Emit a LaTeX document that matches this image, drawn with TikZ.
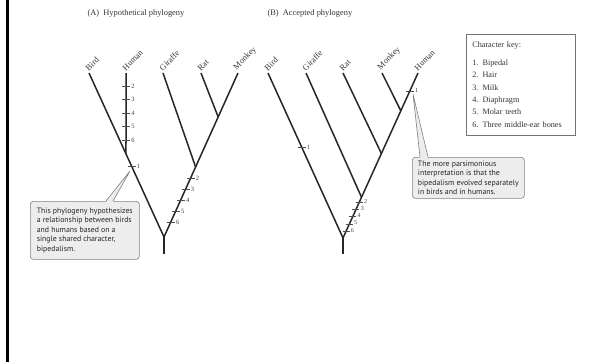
\documentclass[tikz,border=0pt]{standalone}
\usepackage{fontspec}
\setmainfont{Liberation Serif}
\newfontfamily\notefont{PT Sans}
\usetikzlibrary{calc}

\begin{document}
\begin{tikzpicture}[x=1pt,y=-1pt,
    branch/.style={line width=1.5pt, draw=black!85},
    tickmark/.style={line width=0.6pt, draw=black!70},
    ticklabel/.style={anchor=west, inner sep=1pt, text=black!75, font=\fontsize{6.5}{7}\selectfont},
    taxon/.style={rotate=45, anchor=south west, inner sep=1pt, text=black!80, font=\fontsize{8.4}{9}\selectfont},
    note/.style={anchor=north west, draw=black!50, fill=black!7, line width=0.6pt, rounded corners=3pt,
      align=left, inner sep=2pt, text=black!85, font=\notefont\fontsize{7.8}{9.5}\selectfont}]
        \useasboundingbox (0,0) rectangle (591,362);
        \def \tk {4} % half length of a tick
        \def \tkB {3.5}

        \draw[line width=2.6pt] (7.5,0) -- (7.5,362);

        \node[anchor=west, text=black!80, font=\fontsize{8.4}{10}\selectfont] (titleA) at (84,13) {(A)\enspace Hypothetical phylogeny};
        \node[anchor=west, text=black!80, font=\fontsize{8.4}{10}\selectfont] (titleB) at (264,13) {(B)\enspace Accepted phylogeny};

        % tree A
        \foreach \name/\x in {Bird/89,Human/126,Giraffe/163,Rat/201,Monkey/238}{
          \coordinate (\name A) at (\x,73);
          \node[taxon] (lbl\name A) at (\name A) {\name};
        }
        \coordinate (rootA) at (164,237);
        \coordinate (stemA) at (164,254);
        \coordinate (jHumanA) at ($(BirdA)!0.4933!(rootA)$);
        \coordinate (jGiraffeA) at ($(rootA)!0.427!(MonkeyA)$);
        \coordinate (jRatA) at ($(rootA)!0.732!(MonkeyA)$);
        \draw[branch] (stemA) -- (rootA);
        \draw[branch] (rootA) -- (BirdA);
        \draw[branch] (rootA) -- (MonkeyA);
        \draw[branch] (HumanA) -- (jHumanA);
        \draw[branch] (GiraffeA) -- (jGiraffeA);
        \draw[branch] (RatA) -- (jRatA);

        \foreach \k [count=\i from 0] in {2,...,6}{
          \coordinate (hA\k) at (126,{86+\i*13.5});
          \draw[tickmark] ($(hA\k)+(-\tk,0)$) -- ($(hA\k)+(\tk,0)$) node[ticklabel] (lhA\k) {\k};
          \pgfmathsetmacro\t{0.843-\i*0.157}
          \coordinate (rA\k) at ($(rootA)!\t!(jGiraffeA)$);
          \draw[tickmark] ($(rA\k)+(-\tk,0)$) -- ($(rA\k)+(\tk,0)$) node[ticklabel] (lrA\k) {\k};
        }
        \coordinate (oneA) at ($(BirdA)!0.567!(rootA)$);
        \draw[tickmark] ($(oneA)+(-\tk,0)$) -- ($(oneA)+(\tk,0)$) node[ticklabel] (lOneA) {1};

        % tree B
        \foreach \name/\x in {Bird/268,Giraffe/306,Rat/343,Monkey/382,Human/418}{
          \coordinate (\name B) at (\x,73);
          \node[taxon] (lbl\name B) at (\name B) {\name};
        }
        \coordinate (rootB) at (343,238);
        \coordinate (stemB) at (343,254);
        \coordinate (jGiraffeB) at ($(rootB)!0.247!(HumanB)$);
        \coordinate (jRatB) at ($(rootB)!0.512!(HumanB)$);
        \coordinate (jMonkeyB) at ($(rootB)!0.771!(HumanB)$);
        \draw[branch] (stemB) -- (rootB);
        \draw[branch] (rootB) -- (BirdB);
        \draw[branch] (rootB) -- (HumanB);
        \draw[branch] (GiraffeB) -- (jGiraffeB);
        \draw[branch] (RatB) -- (jRatB);
        \draw[branch] (MonkeyB) -- (jMonkeyB);

        \foreach \k [count=\i from 0] in {2,...,6}{
          \pgfmathsetmacro\t{0.878-\i*0.177}
          \coordinate (rB\k) at ($(rootB)!\t!(jGiraffeB)$);
          \draw[tickmark] ($(rB\k)+(-\tkB,0)$) -- ($(rB\k)+(\tkB,0)$) node[ticklabel, font=\fontsize{6}{6}\selectfont, yshift=1pt] (lrB\k) {\k};
        }
        \coordinate (oneB) at ($(BirdB)!0.448!(rootB)$);
        \draw[tickmark] ($(oneB)+(-\tk,0)$) -- ($(oneB)+(\tk,0)$) node[ticklabel] (lOneB) {1};
        \coordinate (twoB) at ($(rootB)!0.892!(HumanB)$);
        \draw[tickmark] ($(twoB)+(-\tk,0)$) -- ($(twoB)+(\tk,0)$) node[ticklabel] (lOneHB) {1};

        % callouts
        \node[note, minimum width=109pt, minimum height=58pt] (noteA) at (30,201) {This phylogeny hypothesizes\\ a relationship between birds\\ and humans based on a\\ single shared character,\\ bipedalism.};
        \coordinate (ptrA) at (130,171);
        \fill[black!7] ($(noteA.north west)+(76,1.2)$) -- (ptrA) -- ($(noteA.north west)+(83,1.2)$) -- cycle;
        \draw[black!50, line width=0.6pt] ($(noteA.north west)+(76,0)$) -- (ptrA) -- ($(noteA.north west)+(83,0)$);

        \node[note, minimum width=112pt, minimum height=41pt] (noteB) at (412,157) {The more parsimonious\\ interpretation is that the\\ bipedalism evolved separately\\ in birds and in humans.};
        \coordinate (ptrB) at (413,94);
        \fill[black!7] ($(noteB.north west)+(8,1.2)$) -- (ptrB) -- ($(noteB.north west)+(16,1.2)$) -- cycle;
        \draw[black!50, line width=0.6pt] ($(noteB.north west)+(8,0)$) -- (ptrB) -- ($(noteB.north west)+(16,0)$);

        % key
        \node[anchor=north west, draw=black!55, line width=0.6pt, text width=97pt, inner xsep=6pt, inner ysep=8pt,
          align=left, text=black!80, font=\fontsize{8.2}{12.4}\selectfont] (key) at (466,34)
          {Character key:\\[5pt] 1. Bipedal\\ 2. Hair\\ 3. Milk\\ 4. Diaphragm\\ 5. Molar teeth\\ 6. Three middle-ear bones};
\end{tikzpicture}
\end{document}
